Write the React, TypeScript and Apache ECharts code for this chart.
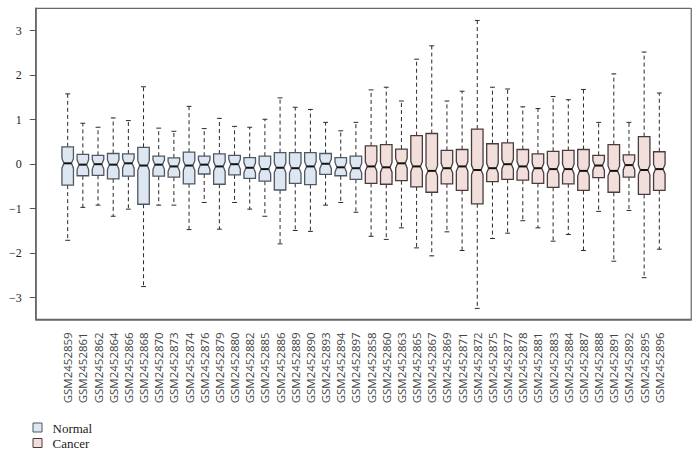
import React, { useEffect, useRef } from "react";
import * as echarts from "echarts";

const samples = [
  "GSM2452859", "GSM2452861", "GSM2452862", "GSM2452864", "GSM2452866",
  "GSM2452868", "GSM2452870", "GSM2452873", "GSM2452874", "GSM2452876",
  "GSM2452879", "GSM2452880", "GSM2452882", "GSM2452885", "GSM2452886",
  "GSM2452889", "GSM2452890", "GSM2452893", "GSM2452894", "GSM2452897",
  "GSM2452858", "GSM2452860", "GSM2452863", "GSM2452865", "GSM2452867",
  "GSM2452869", "GSM2452871", "GSM2452872", "GSM2452875", "GSM2452877",
  "GSM2452878", "GSM2452881", "GSM2452883", "GSM2452884", "GSM2452887",
  "GSM2452888", "GSM2452891", "GSM2452892", "GSM2452895", "GSM2452896",
];
const groups = [
  "Normal", "Normal", "Normal", "Normal", "Normal", "Normal", "Normal", "Normal", "Normal", "Normal",
  "Normal", "Normal", "Normal", "Normal", "Normal", "Normal", "Normal", "Normal", "Normal", "Normal",
  "Cancer", "Cancer", "Cancer", "Cancer", "Cancer", "Cancer", "Cancer", "Cancer", "Cancer", "Cancer",
  "Cancer", "Cancer", "Cancer", "Cancer", "Cancer", "Cancer", "Cancer", "Cancer", "Cancer", "Cancer",
];
const whiskerLow = [
  -1.71, -0.97, -0.92, -1.17, -1.01, -2.75, -0.92, -0.92, -1.47, -0.86,
  -1.46, -0.86, -1.01, -1.17, -1.79, -1.49, -1.51, -0.92, -0.86, -1.08,
  -1.62, -1.69, -1.43, -1.88, -2.06, -1.52, -1.94, -3.24, -1.67, -1.55,
  -1.27, -1.43, -1.73, -1.58, -1.94, -1.06, -2.18, -1.04, -2.55, -1.91,
];
const q1 = [
  -0.47, -0.26, -0.25, -0.33, -0.27, -0.9, -0.27, -0.29, -0.44, -0.22,
  -0.45, -0.24, -0.32, -0.38, -0.58, -0.43, -0.46, -0.23, -0.26, -0.34,
  -0.43, -0.45, -0.37, -0.51, -0.63, -0.44, -0.59, -0.89, -0.39, -0.34,
  -0.36, -0.43, -0.52, -0.44, -0.59, -0.3, -0.63, -0.29, -0.68, -0.59,
];
const median = [
  0.02, -0.01, 0.0, -0.01, 0.02, -0.03, -0.01, -0.05, -0.03, -0.01,
  -0.05, 0.0, -0.08, -0.11, -0.08, -0.09, -0.05, 0.01, -0.07, -0.09,
  -0.05, -0.07, 0.02, -0.05, -0.15, -0.09, -0.05, -0.13, -0.09, 0.0,
  -0.05, -0.09, -0.11, -0.11, -0.15, -0.03, -0.15, -0.02, -0.13, -0.11,
];
const q3 = [
  0.39, 0.22, 0.2, 0.24, 0.23, 0.38, 0.18, 0.14, 0.27, 0.18,
  0.23, 0.2, 0.15, 0.18, 0.26, 0.26, 0.26, 0.24, 0.15, 0.18,
  0.41, 0.44, 0.34, 0.64, 0.69, 0.31, 0.33, 0.79, 0.46, 0.48,
  0.33, 0.23, 0.29, 0.31, 0.33, 0.2, 0.44, 0.21, 0.62, 0.28,
];
const whiskerHigh = [
  1.58, 0.92, 0.83, 1.04, 0.98, 1.74, 0.81, 0.74, 1.3, 0.8,
  1.03, 0.85, 0.83, 1.01, 1.49, 1.28, 1.23, 0.94, 0.75, 0.94,
  1.67, 1.73, 1.42, 2.36, 2.66, 1.42, 1.64, 3.23, 1.73, 1.69,
  1.29, 1.25, 1.52, 1.45, 1.68, 0.94, 2.03, 0.94, 2.52, 1.6,
];
const yTicks = [-3, -2, -1, 0, 1, 2, 3];
const legendNames = ["Normal", "Cancer"];

const FILL: Record<string, string> = { Normal: "#dde7f2", Cancer: "#f2dedb" };
const EDGE: Record<string, string> = { Normal: "#4f5761", Cancer: "#4a3c3c" };

function buildData(group: string) {
  const out: number[][] = [];
  samples.forEach((_, i) => {
    if (groups[i] === group) {
      out.push([i, whiskerLow[i], q1[i], median[i], q3[i], whiskerHigh[i]]);
    }
  });
  return out;
}

function makeRender(group: string) {
  return (params: any, api: any) => {
    const idx = api.value(0);
    const lo = api.value(1);
    const b1 = api.value(2);
    const md = api.value(3);
    const b3 = api.value(4);
    const hi = api.value(5);
    const band = api.size([1, 0])[0];
    const half = band * 0.38;
    const cap = band * 0.16;
    const ind = band * 0.13;
    const notch = 0.11;
    const [cx, yLo] = api.coord([idx, lo]);
    const yQ1 = api.coord([idx, b1])[1];
    const yMd = api.coord([idx, md])[1];
    const yQ3 = api.coord([idx, b3])[1];
    const yHi = api.coord([idx, hi])[1];
    const yNt = api.coord([idx, md + notch])[1];
    const yNb = api.coord([idx, md - notch])[1];
    const L = cx - half;
    const R = cx + half;
    const dash = { stroke: "#2a2a2a", lineWidth: 1, lineDash: [4, 3] };
    const solid = { stroke: "#2a2a2a", lineWidth: 1 };
    return {
      type: "group",
      children: [
        { type: "line", shape: { x1: cx, y1: yQ3, x2: cx, y2: yHi }, style: dash },
        { type: "line", shape: { x1: cx, y1: yQ1, x2: cx, y2: yLo }, style: dash },
        { type: "line", shape: { x1: cx - cap, y1: yHi, x2: cx + cap, y2: yHi }, style: solid },
        { type: "line", shape: { x1: cx - cap, y1: yLo, x2: cx + cap, y2: yLo }, style: solid },
        {
          type: "polygon",
          shape: {
            points: [
              [L, yQ3], [R, yQ3], [R, Math.max(yNt, yQ3)], [R - ind, yMd], [R, Math.min(yNb, yQ1)],
              [R, yQ1], [L, yQ1], [L, Math.min(yNb, yQ1)], [L + ind, yMd], [L, Math.max(yNt, yQ3)],
            ],
          },
          style: { fill: FILL[group], stroke: EDGE[group], lineWidth: 1.3 },
        },
        {
          type: "line",
          shape: { x1: L + ind, y1: yMd, x2: R - ind, y2: yMd },
          style: { stroke: "#111", lineWidth: 2 },
        },
      ],
    };
  };
}

export default function App() {
  const ref = useRef<HTMLDivElement>(null);
  useEffect(() => {
    if (!ref.current) return;
    const chart = echarts.init(ref.current, null, { renderer: "svg" });
    const serif = '"Liberation Serif", "DejaVu Serif", serif';
    const option: any = {
      animation: false,
      backgroundColor: "#ffffff",
      grid: [
        { left: 35.8, top: 8.3, width: 655.4, height: 311, show: true, borderColor: "#444", borderWidth: 1 },
        { left: 60.1, top: 30.7, width: 606.8, height: 267 },
      ],
      xAxis: [
        {
          gridIndex: 0, type: "value", min: 0, max: 1,
          axisLine: { show: true, lineStyle: { color: "#666", width: 1.6 } },
          axisTick: { show: false }, axisLabel: { show: false }, splitLine: { show: false },
        },
        {
          gridIndex: 1, type: "category", data: samples, position: "bottom", offset: 21.6,
          boundaryGap: true,
          axisLine: { show: false },
          axisTick: { show: true, alignWithLabel: true, length: 6, lineStyle: { color: "#555", width: 1 } },
          axisLabel: {
            rotate: 90, interval: 0, margin: 13,
            fontFamily: '"Open Sans", "DejaVu Sans", sans-serif', fontSize: 11.5, color: "#444",
          },
          splitLine: { show: false },
        },
      ],
      yAxis: [
        {
          gridIndex: 0, type: "value", min: 0, max: 1,
          axisLine: { show: true, lineStyle: { color: "#666", width: 1.6 } },
          axisTick: { show: false }, axisLabel: { show: false }, splitLine: { show: false },
        },
        {
          gridIndex: 1, type: "value", min: yTicks[0], max: yTicks[yTicks.length - 1], interval: 1,
          offset: 24.3,
          axisLine: { show: false },
          axisTick: { show: true, length: 6, lineStyle: { color: "#555", width: 1 } },
          axisLabel: {
            margin: 14, fontFamily: serif, fontSize: 12, color: "#222",
            formatter: (v: number) => (v < 0 ? "\u2212" + Math.abs(v) : String(v)),
          },
          splitLine: { show: false },
        },
      ],
      series: legendNames.map((g) => ({
        name: g,
        type: "custom",
        xAxisIndex: 1,
        yAxisIndex: 1,
        clip: false,
        renderItem: makeRender(g),
        encode: { x: 0, y: [1, 2, 3, 4, 5] },
        data: buildData(g),
      })),
      graphic: legendNames.flatMap((g, i) => [
        {
          type: "rect",
          shape: { x: 33, y: 423 + i * 15.5, width: 9, height: 9 },
          style: { fill: FILL[g], stroke: EDGE[g], lineWidth: 1 },
        },
        {
          type: "text",
          x: 52.5,
          y: 428 + i * 15.5,
          style: { text: g, fontFamily: serif, fontSize: 13, fill: "#222", verticalAlign: "middle" },
        },
      ]),
    };
    chart.setOption(option);
    return () => chart.dispose();
  }, []);
  return (
    <div
      ref={ref}
      style={{ position: "fixed", left: 0, top: 0, width: 699, height: 459, background: "#fff" }}
    />
  );
}
